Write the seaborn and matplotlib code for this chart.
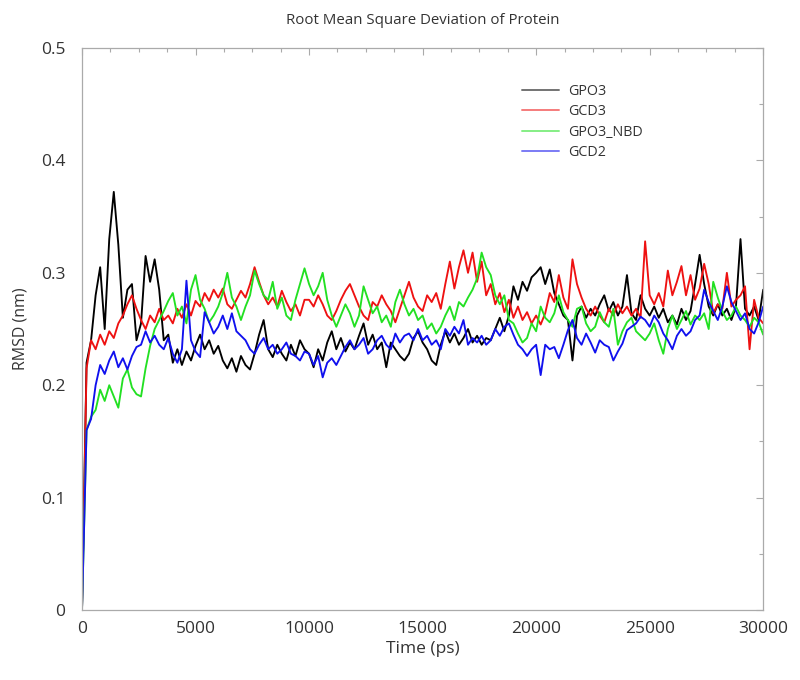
import numpy as np
import pandas as pd
import matplotlib
matplotlib.use("Agg")
import matplotlib.pyplot as plt
import seaborn as sns
from matplotlib.ticker import MultipleLocator

# sampling times (ps), every 200 ps from 0 to 30000
time_ps = list(range(0, 30001, 200))

gpo3 = [
    0.0, 0.22, 0.24, 0.28, 0.305, 0.25, 0.33, 0.372, 0.325, 0.26,
    0.285, 0.29, 0.24, 0.255, 0.315, 0.292, 0.312, 0.285, 0.24, 0.245,
    0.22, 0.232, 0.218, 0.23, 0.222, 0.235, 0.245, 0.232, 0.24, 0.228,
    0.235, 0.222, 0.215, 0.224, 0.212, 0.226, 0.218, 0.214, 0.228, 0.245,
    0.258, 0.232, 0.225, 0.236, 0.228, 0.222, 0.236, 0.226, 0.24, 0.232,
    0.228, 0.216, 0.232, 0.222, 0.238, 0.248, 0.232, 0.242, 0.23, 0.238,
    0.232, 0.244, 0.255, 0.236, 0.245, 0.232, 0.238, 0.216, 0.238, 0.232,
    0.226, 0.222, 0.228, 0.242, 0.248, 0.238, 0.232, 0.222, 0.218, 0.236,
    0.248, 0.238, 0.246, 0.236, 0.242, 0.25, 0.238, 0.244, 0.236, 0.242,
    0.24, 0.25, 0.26, 0.248, 0.262, 0.288, 0.276, 0.292, 0.284, 0.296,
    0.3, 0.305, 0.29, 0.303, 0.282, 0.272, 0.262, 0.258, 0.222, 0.262,
    0.27, 0.26, 0.268, 0.262, 0.272, 0.28, 0.266, 0.274, 0.262, 0.27,
    0.298, 0.264, 0.258, 0.28, 0.268, 0.262, 0.27, 0.26, 0.268, 0.256,
    0.262, 0.254, 0.268, 0.258, 0.266, 0.29, 0.316, 0.29, 0.27, 0.262,
    0.272, 0.262, 0.268, 0.258, 0.27, 0.33, 0.268, 0.262, 0.27, 0.258,
    0.285,
]

gcd3 = [
    0.0, 0.215, 0.24, 0.232, 0.245, 0.236, 0.248, 0.242, 0.255, 0.262,
    0.272, 0.28, 0.268, 0.258, 0.25, 0.262, 0.256, 0.268, 0.258, 0.262,
    0.255, 0.268, 0.26, 0.272, 0.262, 0.275, 0.27, 0.282, 0.275, 0.285,
    0.278, 0.286, 0.272, 0.268, 0.276, 0.284, 0.278, 0.29, 0.305, 0.292,
    0.28, 0.272, 0.278, 0.27, 0.284, 0.274, 0.266, 0.272, 0.262, 0.276,
    0.276, 0.27, 0.28, 0.272, 0.262, 0.258, 0.266, 0.276, 0.284, 0.29,
    0.28, 0.27, 0.262, 0.258, 0.274, 0.27, 0.28, 0.272, 0.266, 0.256,
    0.268, 0.28, 0.292, 0.278, 0.27, 0.266, 0.28, 0.274, 0.282, 0.268,
    0.29, 0.31, 0.286, 0.305, 0.32, 0.3, 0.318, 0.292, 0.31, 0.28,
    0.29, 0.272, 0.282, 0.265, 0.276, 0.26, 0.27, 0.258, 0.265, 0.255,
    0.262, 0.254, 0.264, 0.282, 0.274, 0.298, 0.278, 0.268, 0.312, 0.29,
    0.278, 0.268, 0.262, 0.27, 0.262, 0.256, 0.268, 0.262, 0.272, 0.264,
    0.27, 0.262, 0.268, 0.26, 0.328, 0.28, 0.272, 0.282, 0.27, 0.302,
    0.28, 0.292, 0.306, 0.28, 0.298, 0.276, 0.286, 0.308, 0.29, 0.264,
    0.272, 0.268, 0.3, 0.27, 0.276, 0.28, 0.288, 0.232, 0.276, 0.26,
    0.255,
]

gpo3_nbd = [
    0.0, 0.16, 0.172, 0.178, 0.196, 0.186, 0.2, 0.19, 0.18, 0.206,
    0.214, 0.198, 0.192, 0.19, 0.215, 0.235, 0.25, 0.258, 0.266, 0.275,
    0.282, 0.262, 0.27, 0.255, 0.285, 0.298, 0.276, 0.268, 0.256, 0.262,
    0.27, 0.282, 0.3, 0.278, 0.27, 0.258, 0.27, 0.28, 0.302, 0.29,
    0.28, 0.276, 0.292, 0.268, 0.278, 0.262, 0.258, 0.276, 0.29, 0.304,
    0.29, 0.28, 0.288, 0.3, 0.276, 0.262, 0.252, 0.262, 0.272, 0.264,
    0.252, 0.262, 0.288, 0.276, 0.264, 0.27, 0.256, 0.262, 0.252, 0.274,
    0.285, 0.272, 0.262, 0.268, 0.258, 0.262, 0.25, 0.255, 0.246, 0.252,
    0.262, 0.27, 0.258, 0.274, 0.27, 0.278, 0.285, 0.295, 0.318, 0.305,
    0.298, 0.28, 0.272, 0.28, 0.258, 0.255, 0.246, 0.238, 0.242, 0.255,
    0.248, 0.27, 0.26, 0.256, 0.264, 0.28, 0.265, 0.258, 0.252, 0.268,
    0.27, 0.255, 0.248, 0.252, 0.265, 0.256, 0.252, 0.268, 0.236, 0.248,
    0.256, 0.26, 0.248, 0.244, 0.24, 0.246, 0.255, 0.24, 0.228, 0.25,
    0.262, 0.25, 0.258, 0.266, 0.254, 0.262, 0.258, 0.264, 0.25, 0.292,
    0.278, 0.266, 0.258, 0.262, 0.27, 0.262, 0.258, 0.252, 0.26, 0.256,
    0.245,
]

gcd2 = [
    0.0, 0.16, 0.17, 0.2, 0.218, 0.21, 0.222, 0.23, 0.216, 0.224,
    0.214, 0.226, 0.234, 0.236, 0.248, 0.238, 0.244, 0.236, 0.232, 0.242,
    0.228, 0.22, 0.232, 0.293, 0.24, 0.23, 0.225, 0.265, 0.256, 0.246,
    0.252, 0.262, 0.25, 0.264, 0.248, 0.244, 0.24, 0.232, 0.228, 0.236,
    0.242, 0.232, 0.236, 0.228, 0.232, 0.238, 0.228, 0.226, 0.222, 0.23,
    0.228, 0.218, 0.226, 0.207, 0.22, 0.224, 0.218, 0.226, 0.234, 0.24,
    0.232, 0.236, 0.242, 0.228, 0.232, 0.24, 0.244, 0.236, 0.232, 0.246,
    0.238, 0.244, 0.246, 0.24, 0.25, 0.24, 0.244, 0.236, 0.24, 0.232,
    0.25, 0.244, 0.252, 0.246, 0.258, 0.236, 0.242, 0.238, 0.244, 0.236,
    0.24, 0.25, 0.244, 0.252, 0.255, 0.245, 0.236, 0.232, 0.226, 0.232,
    0.236, 0.209, 0.236, 0.232, 0.234, 0.224, 0.236, 0.249, 0.258, 0.242,
    0.236, 0.246, 0.238, 0.229, 0.24, 0.236, 0.234, 0.222, 0.23, 0.237,
    0.249, 0.252, 0.255, 0.261, 0.258, 0.252, 0.262, 0.256, 0.246, 0.24,
    0.232, 0.244, 0.25, 0.244, 0.248, 0.258, 0.262, 0.285, 0.274, 0.266,
    0.258, 0.27, 0.288, 0.274, 0.266, 0.258, 0.264, 0.25, 0.246, 0.256,
    0.27,
]

series_names = ["GPO3", "GCD3", "GPO3_NBD", "GCD2"]
series_values = [gpo3, gcd3, gpo3_nbd, gcd2]
colors = ["#000000", "#ee1111", "#22e022", "#1010ee"]

x_ticks = [0, 5000, 10000, 15000, 20000, 25000, 30000]
y_ticks = [0, 0.1, 0.2, 0.3, 0.4, 0.5]
y_tick_labels = ["0", "0.1", "0.2", "0.3", "0.4", "0.5"]

frames = []
for name, vals in zip(series_names, series_values):
    frames.append(pd.DataFrame({"Time (ps)": time_ps, "RMSD (nm)": vals, "series": name}))
df = pd.concat(frames, ignore_index=True)

sns.set_theme(style="white")
plt.rcParams["font.family"] = ["Open Sans", "DejaVu Sans"]
text_color = "#333333"

fig = plt.figure(figsize=(8.0, 6.8), dpi=100)
ax = fig.add_axes([0.1025, 0.1029, 0.8515, 0.8265])

sns.lineplot(data=df, x="Time (ps)", y="RMSD (nm)", hue="series",
             hue_order=series_names, palette=dict(zip(series_names, colors)),
             estimator=None, sort=False, linewidth=1.35, ax=ax)

ax.set_xlim(0, 30000)
ax.set_ylim(0, 0.5)
ax.set_xticks(x_ticks)
ax.set_xticklabels([str(v) for v in x_ticks])
ax.set_yticks(y_ticks)
ax.set_yticklabels(y_tick_labels)
ax.xaxis.set_minor_locator(MultipleLocator(1250))
ax.yaxis.set_minor_locator(MultipleLocator(0.05))
ax.tick_params(which="both", direction="in", top=True, right=True,
               color="#aaaaaa", labelcolor=text_color)
ax.tick_params(which="major", length=5, width=0.8, labelsize=12.5)
ax.tick_params(which="minor", length=3, width=0.8)
ax.tick_params(axis="x", which="major", pad=8)
ax.tick_params(axis="y", which="major", pad=12)
for s in ax.spines.values():
    s.set_color("#aaaaaa")
    s.set_linewidth(0.9)

ax.set_xlabel("Time (ps)", fontsize=12.5, color=text_color, labelpad=3)
ax.set_ylabel("RMSD (nm)", fontsize=11.5, color=text_color, labelpad=9)
ax.set_title("Root Mean Square Deviation of Protein", fontsize=10.8,
             color=text_color, pad=17)

leg = ax.legend(loc="upper left", bbox_to_anchor=(509 / 800, 1 - 71 / 680),
                bbox_transform=fig.transFigure, frameon=False, fontsize=10.3,
                handlelength=2.6, handletextpad=0.65, labelspacing=0.38)
for t in leg.get_texts():
    t.set_color(text_color)
for h in leg.get_lines():
    h.set_linewidth(1.4)
    h.set_alpha(0.55)

fig.savefig("out.png", dpi=100)
